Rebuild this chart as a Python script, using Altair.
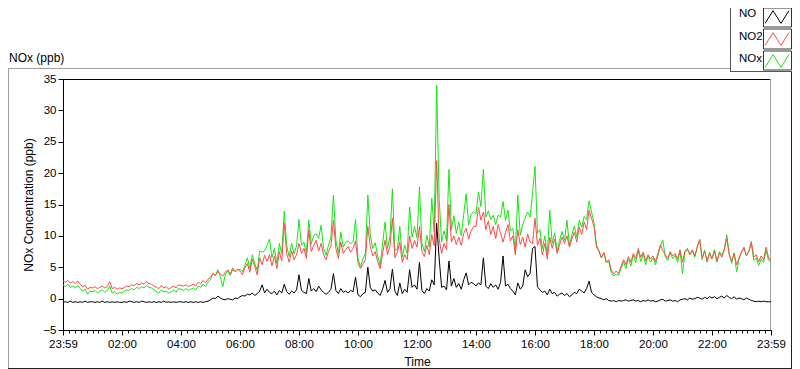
import altair as alt
import pandas as pd

# ---------------- data (5-minute readings, 23:59 -> 23:59) ----------------
series_names = ["NO", "NO2", "NOx"]
series_colors = ["#000000", "#ff4a4a", "#14e614"]
step_minutes = 5

no2 = [
    2.8, 2.6, 2.9, 2.5, 2.7, 2.4, 2.8, 2.3, 1.9, 2.1, 1.5, 1.8,
    1.7, 1.9, 1.6, 1.8, 2.0, 1.7, 1.9, 2.7, 1.6, 1.8, 1.5, 1.7,
    1.6, 1.8, 2.0, 1.9, 2.2, 2.1, 2.4, 2.2, 2.5, 2.3, 2.7, 2.4,
    2.3, 2.0, 1.8, 1.6, 2.1, 1.7, 1.9, 1.5, 1.8, 2.0, 1.7, 2.2,
    2.1, 2.0, 2.2, 1.9, 2.1, 2.3, 2.0, 2.6, 2.4, 2.9, 2.5, 3.1,
    3.4, 4.0, 3.7, 4.3, 3.9, 3.6, 4.2, 4.6, 3.9, 4.9, 4.3, 4.7,
    4.4, 3.8, 4.9, 5.6, 4.2, 6.3, 5.1, 3.8, 6.5, 5.4, 6.9, 5.9,
    7.0, 5.2, 6.8, 4.8, 7.5, 6.0, 12.0, 7.2, 5.8, 7.6, 6.2, 7.0,
    8.8, 7.2, 8.0, 6.4, 10.9, 7.5, 8.5, 9.3, 7.6, 8.8, 7.0, 6.2,
    7.5, 8.4, 12.5, 8.0, 6.4, 9.0, 7.2, 7.8, 8.3, 7.4, 8.0, 9.2,
    5.7, 4.8, 5.5, 6.2, 11.5, 8.3, 6.8, 7.5, 5.9, 4.8, 7.2, 9.3,
    7.0, 8.3, 12.8, 6.5, 7.4, 9.0, 5.8, 7.0, 6.2, 10.0, 8.0, 9.3,
    8.2, 11.5, 7.5, 6.7, 8.5, 7.0, 10.2, 8.4, 22.0, 9.5, 7.2, 8.8,
    7.8, 15.0, 9.0, 10.0, 8.6, 9.8, 8.5, 10.4, 11.2, 9.5, 10.8, 11.5,
    11.5, 14.6, 12.5, 13.8, 11.0, 12.4, 10.2, 11.5, 9.6, 11.8, 10.4, 9.0,
    10.5, 11.8, 9.2, 10.0, 7.0, 11.0, 8.6, 9.8, 8.2, 10.3, 9.0, 8.8,
    12.8, 8.5, 9.6, 7.0, 8.8, 6.3, 9.8, 8.0, 9.5, 7.2, 8.6, 9.8,
    8.8, 10.0, 8.2, 9.5, 10.6, 9.0, 11.4, 10.2, 12.2, 11.0, 14.1, 12.8,
    11.5, 8.2, 7.6, 6.5, 7.4, 5.8, 6.2, 4.6, 3.9, 4.4, 4.0, 5.2,
    6.2, 5.4, 6.7, 5.8, 7.2, 6.4, 8.0, 6.6, 7.4, 6.0, 7.0, 6.3,
    6.8, 5.9, 7.2, 8.6, 7.6, 7.0, 6.4, 7.5, 6.8, 7.2, 6.3, 7.8,
    5.8, 7.6, 8.0, 7.0, 7.8, 6.8, 8.2, 9.4, 6.5, 7.6, 6.0, 7.2,
    6.4, 7.6, 6.0, 7.2, 6.6, 7.8, 9.6, 7.0, 6.0, 7.2, 5.4, 6.5,
    7.4, 8.2, 6.8, 7.6, 9.1, 6.6, 7.0, 5.9, 6.8, 6.2, 8.2, 6.6,
    6.0,
]

no = [
    -0.6, -0.5, -0.6, -0.4, -0.6, -0.5, -0.6, -0.5, -0.6, -0.4, -0.6, -0.5,
    -0.5, -0.6, -0.5, -0.6, -0.4, -0.6, -0.5, -0.6, -0.5, -0.6, -0.5, -0.6,
    -0.6, -0.5, -0.6, -0.4, -0.5, -0.6, -0.5, -0.6, -0.4, -0.5, -0.6, -0.5,
    -0.6, -0.5, -0.6, -0.5, -0.6, -0.4, -0.6, -0.5, -0.6, -0.5, -0.6, -0.5,
    -0.5, -0.6, -0.5, -0.6, -0.5, -0.6, -0.5, -0.6, -0.5, -0.6, -0.5, -0.4,
    -0.2, 0.1, 0.0, 0.4, 0.1, -0.1, -0.2, 0.0, -0.1, -0.2, 0.1, 0.0,
    0.3, 0.5, 0.4, 0.7, 0.6, 0.9, 0.5, 0.8, 1.2, 2.2, 0.9, 1.5,
    1.0, 0.8, 1.2, 0.6, 1.3, 0.9, 2.3, 1.1, 0.7, 1.2, 0.9, 1.4,
    3.8, 1.3, 1.0, 0.8, 3.2, 1.2, 1.6, 1.1, 2.0, 1.4, 1.0, 0.7,
    1.0, 1.5, 4.0, 1.3, 0.8, 1.6, 1.0, 1.2, 0.9, 1.3, 1.1, 3.4,
    0.6, 0.3, 0.8, 1.0, 5.0, 1.8, 1.2, 1.4, 0.9, 0.5, 1.5, 2.9,
    1.0, 1.6, 4.7, 1.2, 0.5, 2.5, 0.8, 1.5, 1.0, 4.6, 1.8, 2.2,
    1.5, 5.8, 1.3, 0.8, 1.6, 1.2, 3.0, 2.2, 12.0, 6.5, 1.8, 2.0,
    1.4, 6.0, 2.0, 3.2, 1.8, 2.4, 1.5, 3.0, 4.1, 2.2, 2.6, 2.4,
    2.0, 2.5, 2.2, 6.5, 2.0, 1.6, 2.4, 1.8, 2.2, 1.5, 2.6, 6.8,
    2.0, 2.3, 1.6, 1.2, 0.6, 2.5, 1.5, 2.0, 4.6, 3.5, 4.0, 8.0,
    8.3, 1.9, 1.4, 1.0, 1.2, 0.6, 1.5, 0.8, 1.0, 0.4, 0.7, 0.9,
    0.5, 0.8, 0.3, 0.6, 1.0, 0.8, 1.5, 1.2, 0.9, 1.6, 2.8, 1.0,
    0.6, 0.3, 0.1, 0.0, -0.2, 0.0, -0.3, -0.4, -0.3, -0.5, -0.3, -0.4,
    -0.3, -0.2, -0.4, -0.3, -0.2, -0.4, -0.3, -0.5, -0.3, -0.4, -0.2, -0.4,
    -0.3, -0.5, -0.4, -0.2, -0.1, -0.4, -0.3, -0.2, -0.4, -0.3, -0.5, -0.2,
    -0.1, 0.0, -0.2, 0.1, -0.1, 0.0, 0.2, 0.1, -0.1, 0.2, 0.0, 0.3,
    0.1, 0.3, 0.0, 0.2, 0.4, 0.1, 0.5, 0.2, 0.0, 0.3, -0.1, 0.1,
    0.0, -0.2, 0.1, -0.1, -0.3, -0.4, -0.5, -0.4, -0.5, -0.4, -0.5, -0.5,
    -0.5,
]

nox = [
    2.2, 1.9, 2.3, 1.8, 2.0, 1.7, 2.1, 1.6, 1.2, 1.5, 0.7, 1.2,
    1.1, 1.3, 0.9, 1.2, 1.4, 1.0, 1.3, 2.0, 0.9, 1.1, 0.7, 1.0,
    0.9, 1.2, 1.4, 1.3, 1.6, 1.4, 1.8, 1.6, 1.9, 1.7, 2.1, 1.8,
    1.7, 1.4, 1.1, 0.9, 1.4, 1.1, 1.2, 0.9, 1.1, 1.4, 1.0, 1.6,
    1.5, 1.3, 1.6, 1.3, 1.5, 1.7, 1.4, 2.0, 1.8, 2.3, 1.9, 2.6,
    3.1, 4.0, 3.7, 4.6, 3.5, 1.9, 3.8, 4.5, 3.7, 4.6, 4.3, 4.6,
    4.7, 4.3, 5.3, 6.5, 4.8, 7.0, 5.6, 4.5, 7.6, 7.4, 7.6, 8.5,
    9.5, 6.5, 8.0, 5.6, 8.8, 7.2, 13.9, 8.4, 6.7, 8.8, 7.1, 8.4,
    12.6, 8.5, 9.0, 7.2, 12.5, 8.7, 10.1, 10.3, 9.6, 11.7, 8.0, 6.9,
    8.5, 9.9, 16.5, 9.3, 7.2, 10.6, 8.2, 9.0, 9.2, 8.7, 9.1, 12.6,
    6.3, 5.1, 6.3, 7.2, 16.5, 10.1, 8.0, 8.9, 6.8, 5.3, 8.7, 12.2,
    8.0, 9.9, 17.5, 7.7, 7.9, 11.5, 6.6, 8.5, 7.2, 14.6, 9.8, 11.5,
    9.7, 17.8, 8.8, 7.5, 10.1, 8.2, 16.0, 10.6, 34.0, 16.0, 9.0, 10.8,
    9.2, 20.6, 11.0, 13.2, 10.4, 12.2, 10.0, 13.4, 16.7, 11.7, 13.4, 13.9,
    13.5, 17.0, 14.7, 20.6, 13.0, 14.0, 12.6, 13.3, 11.8, 13.3, 13.0, 15.5,
    12.5, 14.1, 10.8, 11.2, 7.6, 16.5, 10.1, 11.8, 12.8, 13.8, 13.0, 16.8,
    21.1, 10.4, 11.0, 8.0, 10.0, 6.9, 14.1, 8.8, 10.5, 7.6, 9.3, 10.7,
    9.3, 12.5, 8.5, 10.1, 11.6, 9.8, 12.5, 11.4, 13.1, 12.6, 15.6, 13.8,
    12.1, 8.5, 7.7, 6.5, 7.2, 5.8, 5.9, 4.2, 3.6, 3.9, 3.7, 4.8,
    5.9, 4.8, 6.3, 5.2, 6.9, 5.7, 7.7, 5.9, 7.1, 5.4, 6.8, 5.8,
    6.5, 5.4, 6.8, 8.4, 9.3, 6.6, 6.1, 7.3, 6.4, 6.9, 5.8, 7.6,
    4.0, 7.4, 7.8, 7.0, 7.6, 6.6, 8.3, 9.4, 6.2, 7.7, 5.8, 7.4,
    6.3, 7.8, 5.8, 7.5, 6.9, 7.9, 10.2, 7.1, 5.6, 7.3, 4.3, 6.3,
    7.4, 8.0, 6.9, 7.5, 8.8, 6.1, 6.5, 5.3, 6.3, 5.8, 7.7, 6.1,
    5.8,
]

x_major_ticks = [0, 2, 4, 6, 8, 10, 12, 14, 16, 18, 20, 22, 24]
x_minor_ticks = [round(i * 0.2, 2) for i in range(121)]
y_ticks = [-5, 0, 5, 10, 15, 20, 25, 30, 35]

hours = [i * step_minutes / 60 for i in range(len(no2))]
rows = []
for name, vals in zip(series_names, [no, no2, nox]):
    for h, v in zip(hours, vals):
        rows.append({"hour": h, "value": v, "series": name})
df = pd.DataFrame(rows)

FONT = "Liberation Sans"
W, H = 708, 251
x_scale = alt.Scale(domain=[0, 24], nice=False, zero=False)

major_axis = alt.Axis(
    orient="bottom",
    values=x_major_ticks,
    labelExpr="datum.value == 0 || datum.value == 24 ? '23:59' : (datum.value < 10 ? '0' : '') + datum.value + ':00'",
    title="Time",
    tickSize=5,
    labelPadding=3,
    labelFlush=False,
    labelOverlap=False,
    grid=False,
    domainColor="#000000",
    tickColor="#000000",
    titlePadding=7,
)
y_enc = alt.Y(
    "value:Q",
    scale=alt.Scale(domain=[-5, 35], nice=False, zero=False),
    axis=alt.Axis(
        values=y_ticks,
        title="NOx Concentration (ppb)",
        tickSize=5,
        labelPadding=2,
        labelFlush=False,
        grid=False,
        domainColor="#000000",
        tickColor="#000000",
        titlePadding=7,
    ),
)
color_enc = alt.Color(
    "series:N",
    scale=alt.Scale(domain=series_names, range=series_colors),
    legend=alt.Legend(
        title=None,
        orient="none",
        legendX=705,
        legendY=-71,
        padding=0,
        symbolType="M-1.4,0.75L-0.47,-0.75L0.47,0.75L1.4,-0.75",
        symbolSize=289,
        symbolStrokeWidth=1,
        rowPadding=4,
        labelExpr="''",
        labelOpacity=0,
        labelFontSize=12,
        labelFont=FONT,
    ),
)

# one x axis (major ticks + labels) drawn by the first line layer only
lines = []
for i, name in enumerate(["NOx", "NO2", "NO"]):
    x_enc = alt.X("hour:Q", scale=x_scale, axis=major_axis if i == 0 else None)
    lines.append(
        alt.Chart(df)
        .transform_filter(alt.datum.series == name)
        .mark_line(strokeWidth=1)
        .encode(x=x_enc, y=y_enc, color=color_enc)
    )

minor = (
    alt.Chart(df)
    .transform_filter(alt.datum.series == "NO")
    .mark_point(opacity=0)
    .encode(
        x=alt.X(
            "hour:Q",
            scale=x_scale,
            axis=alt.Axis(orient="bottom", values=x_minor_ticks, labels=False, domain=False,
                          tickSize=3, tickColor="#000000", title=None, grid=False),
        ),
        y=y_enc,
    )
)

one = alt.Data(values=[{"k": 1}])

def hrule(x1, x2, y, color):
    return alt.Chart(one).mark_rule(color=color, strokeWidth=1).encode(
        x=alt.value(x1), x2=alt.value(x2), y=alt.value(y))

def vrule(x, y1, y2, color):
    return alt.Chart(one).mark_rule(color=color, strokeWidth=1).encode(
        x=alt.value(x), y=alt.value(y1), y2=alt.value(y2))

def box(x1, x2, y1, y2):
    return alt.Chart(one).mark_rect(fill="#ffffff", stroke="#333333", strokeWidth=1).encode(
        x=alt.value(x1), x2=alt.value(x2), y=alt.value(y1), y2=alt.value(y2))

def label(txt, x, y, size=12):
    return alt.Chart(one).mark_text(
        align="left", baseline="middle", fontSize=size, font=FONT, color="#000000",
        fontWeight="normal",
    ).encode(x=alt.value(x), y=alt.value(y), text=alt.value(txt))

frame = [
    hrule(-55, 667, -10.5, "#a0a0a0"),
    vrule(-54.5, -10.5, 289, "#a0a0a0"),
    hrule(-55, 729, 289.5, "#222222"),
    vrule(728.5, -7, 289.5, "#222222"),
    vrule(667.5, -71, -7, "#555555"),
    hrule(667.5, 729, -7.5, "#555555"),
    box(700.5, 728.5, -71, -52),
    box(700.5, 728.5, -50, -30),
    box(700.5, 728.5, -28, -9),
    hrule(0, W, 0.5, "#000000"),
    vrule(W - 0.5, 0, H, "#a0a0a0"),
]

texts = [
    label("NOx (ppb)", -54, -21),
    label(series_names[0], 676, -65, 11.5),
    label(series_names[1], 676, -42, 11.5),
    label(series_names[2], 676, -20, 11.5),
]

chart = (
    alt.layer(*frame, *texts, minor, *lines)
    .resolve_axis(x="independent")
    .properties(
        width=W,
        height=H,
        autosize=alt.AutoSizeParams(type="none"),
        padding={"left": 55, "top": 71, "right": 21, "bottom": 39},
        background="#ffffff",
    )
    .configure_view(stroke=None)
    .configure_axis(
        labelFont=FONT, titleFont=FONT, labelFontSize=11.5, titleFontSize=12,
        labelColor="#000000", titleColor="#000000", titleFontWeight="normal",
        labelFontWeight="normal",
    )
)

chart.save("out.html", embed_options={"renderer": "svg", "actions": False})
